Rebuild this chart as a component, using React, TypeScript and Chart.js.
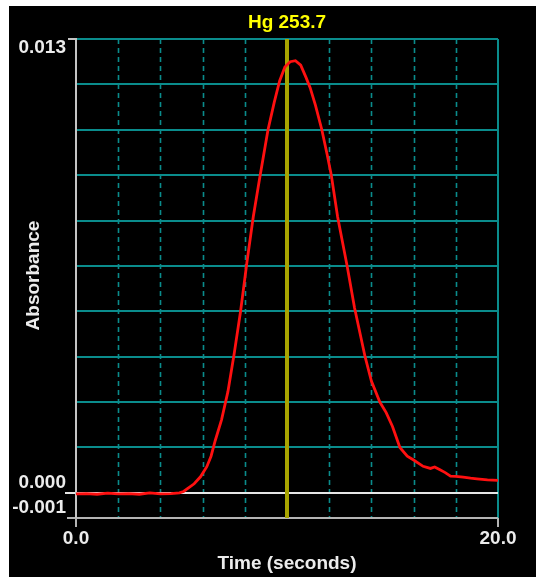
import React, { useEffect, useRef } from "react";
import { Chart, registerables } from "chart.js";

Chart.register(...registerables);

// ---- data ----
const TITLE = "Hg 253.7";
const X_TITLE = "Time (seconds)";
const Y_TITLE = "Absorbance";
const X_MIN = 0;
const X_MAX = 20;
const Y_MIN = -0.00072;
const Y_MAX = 0.013;
const X_TICK_VALUES = [0, 20];
const X_TICK_LABELS = ["0.0", "20.0"];
const Y_TICK_VALUES = [0.013, 0, Y_MIN];
const Y_TICK_LABELS = ["0.013", "0.000", "-0.001"];
const X_GRID = [2, 4, 6, 8, 12, 14, 16, 18];
const Y_GRID = [0.0013, 0.0026, 0.0039, 0.0052, 0.0065, 0.0078, 0.0091, 0.0104, 0.0117, 0.013];
const MARKER_X = 10;

const TIME = [0, 0.5, 1, 1.5, 2, 2.5, 3, 3.5, 4, 4.5, 4.9, 5.1, 5.3, 5.6, 5.9, 6.2, 6.4, 6.6, 6.9, 7.2, 7.5, 7.8, 8.1, 8.4, 8.7, 9.1, 9.4, 9.65, 9.9, 10.15, 10.4, 10.65, 10.9, 11.1, 11.35, 11.65, 11.9, 12.1, 12.4, 12.85, 13.2, 13.7, 14.0, 14.4, 14.7, 15.0, 15.35, 15.7, 16.0, 16.45, 16.8, 17.0, 17.25, 17.5, 17.75, 18.0, 18.35, 18.7, 19.0, 19.5, 20.0];
const ABSORBANCE = [-0.00003, -0.00002, -0.00004, -0.00001, -0.00003, -0.00002, -0.00004, 0.0, -0.00003, -0.00002, 0.0, 0.00004, 0.00013, 0.00026, 0.00046, 0.00075, 0.00105, 0.0015, 0.0021, 0.0029, 0.004, 0.0052, 0.0066, 0.0079, 0.009, 0.0104, 0.0112, 0.0118, 0.0122, 0.01235, 0.01238, 0.01225, 0.0119, 0.0116, 0.0111, 0.0104, 0.0097, 0.0091, 0.0079, 0.0065, 0.0053, 0.0039, 0.0032, 0.0026, 0.0023, 0.0019, 0.0013, 0.00105, 0.00094, 0.00076, 0.0007, 0.00074, 0.00066, 0.00058, 0.00048, 0.00047, 0.00045, 0.00042, 0.0004, 0.00037, 0.00036];

const TEAL = "#0a8c8c";
const FONT = 'bold 19px "Liberation Sans", Arial, sans-serif';
const LABEL = "#ececec";

const decorPlugin = {
  id: "decor",
  beforeDraw(chart: any) {
    const { ctx, width, height } = chart;
    ctx.save();
    ctx.fillStyle = "#000";
    ctx.fillRect(0, 0, width, height);
    ctx.restore();
  },
  beforeDatasetsDraw(chart: any) {
    const { ctx, chartArea } = chart;
    const xs = chart.scales.x;
    const ys = chart.scales.y;
    const { left, right, top, bottom } = chartArea;
    ctx.save();
    ctx.strokeStyle = TEAL;
    ctx.lineWidth = 1.6;
    ctx.setLineDash([5, 4]);
    X_GRID.forEach((v) => {
      const px = Math.round(xs.getPixelForValue(v)) + 0.5;
      ctx.beginPath();
      ctx.moveTo(px, top);
      ctx.lineTo(px, bottom);
      ctx.stroke();
    });
    ctx.setLineDash([]);
    ctx.lineWidth = 2;
    Y_GRID.forEach((v) => {
      const py = Math.round(ys.getPixelForValue(v));
      ctx.beginPath();
      ctx.moveTo(left, py);
      ctx.lineTo(right, py);
      ctx.stroke();
    });
    const rx = Math.round(xs.getPixelForValue(X_MAX));
    ctx.beginPath();
    ctx.moveTo(rx, top);
    ctx.lineTo(rx, bottom);
    ctx.stroke();
    const zy = Math.round(ys.getPixelForValue(0));
    ctx.strokeStyle = "#e6e6e6";
    ctx.lineWidth = 2;
    ctx.beginPath();
    ctx.moveTo(left - 11, zy);
    ctx.lineTo(right, zy);
    ctx.stroke();
    const by = Math.round(ys.getPixelForValue(Y_MIN));
    ctx.strokeStyle = "#b4b4b4";
    ctx.beginPath();
    ctx.moveTo(left - 9, by);
    ctx.lineTo(right, by);
    ctx.stroke();
    X_TICK_VALUES.forEach((v) => {
      const px = Math.round(xs.getPixelForValue(v));
      ctx.beginPath();
      ctx.moveTo(px, by);
      ctx.lineTo(px, by + 9);
      ctx.stroke();
    });
    const lx = Math.round(xs.getPixelForValue(X_MIN));
    const ty = Math.round(ys.getPixelForValue(Y_MAX));
    ctx.strokeStyle = "#c4c4c4";
    ctx.beginPath();
    ctx.moveTo(lx - 8, ty);
    ctx.lineTo(lx, ty);
    ctx.lineTo(lx, by);
    ctx.stroke();
    ctx.restore();
  },
  afterDraw(chart: any) {
    const { ctx, chartArea } = chart;
    const xs = chart.scales.x;
    const ys = chart.scales.y;
    const { left, right, top, bottom } = chartArea;
    ctx.save();
    ctx.font = FONT;
    ctx.textBaseline = "middle";
    ctx.fillStyle = LABEL;
    ctx.textAlign = "right";
    Y_TICK_VALUES.forEach((v, i) => {
      const py = ys.getPixelForValue(v);
      const off = v === Y_MAX ? 9 : -10;
      ctx.fillText(Y_TICK_LABELS[i], left - 10, py + off);
    });
    ctx.textAlign = "center";
    X_TICK_VALUES.forEach((v, i) => {
      ctx.fillText(X_TICK_LABELS[i], xs.getPixelForValue(v), bottom + 21);
    });
    const cx = (left + right) / 2;
    ctx.fillText(X_TITLE, cx, bottom + 46);
    ctx.fillStyle = "#ffff00";
    ctx.fillText(TITLE, cx, top - 16);
    ctx.fillStyle = LABEL;
    ctx.translate(25, (top + bottom) / 2 - 3);
    ctx.rotate(-Math.PI / 2);
    ctx.fillText(Y_TITLE, 0, 0);
    ctx.restore();
  },
};

export default function App() {
  const ref = useRef<HTMLCanvasElement | null>(null);
  useEffect(() => {
    if (!ref.current) return;
    const chart = new Chart(ref.current, {
      type: "line",
      data: {
        datasets: [
          {
            data: TIME.map((t, i) => ({ x: t, y: ABSORBANCE[i] })),
            borderColor: "#ff1010",
            borderWidth: 2.8,
            pointRadius: 0,
            tension: 0,
          },
          {
            data: [
              { x: MARKER_X, y: Y_MIN },
              { x: MARKER_X, y: Y_MAX },
            ],
            borderColor: "#a8a400",
            borderWidth: 4,
            pointRadius: 0,
          },
        ],
      },
      options: {
        animation: false,
        responsive: false,
        devicePixelRatio: 1,
        layout: { padding: { left: 67, right: 38, top: 33, bottom: 59 } },
        plugins: { legend: { display: false }, tooltip: { enabled: false } },
        scales: {
          x: { type: "linear", min: X_MIN, max: X_MAX, display: false },
          y: { type: "linear", min: Y_MIN, max: Y_MAX, display: false },
        },
      },
      plugins: [decorPlugin],
    });
    return () => chart.destroy();
  }, []);
  return (
    <div style={{ position: "fixed", left: 9, top: 6 }}>
      <canvas ref={ref} width={527} height={571} style={{ width: 527, height: 571, display: "block" }} />
    </div>
  );
}
